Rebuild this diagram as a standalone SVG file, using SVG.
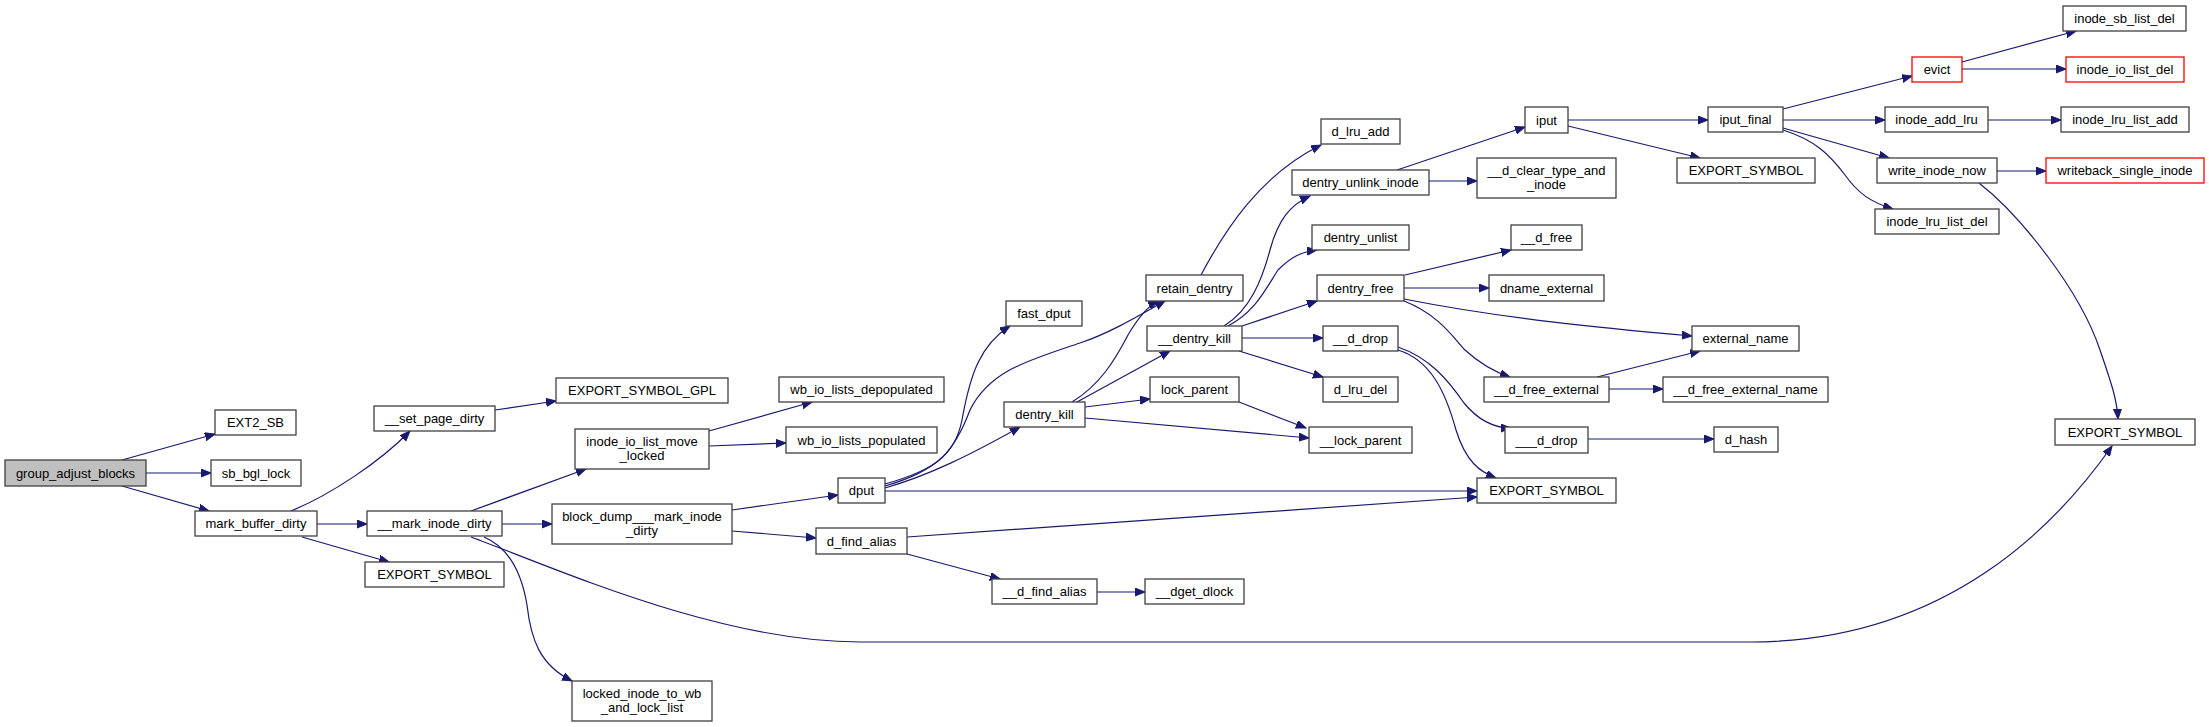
<svg xmlns="http://www.w3.org/2000/svg" width="2209" height="727" viewBox="0 0 2209 727">
<style>
.n rect{fill:#fff;stroke:#404040;stroke-width:1.3}
.n.root rect{fill:#bfbfbf}
.n.red rect{stroke:#ff0000}
.n text{font-family:"Liberation Sans",Arial,sans-serif;font-size:13px;fill:#000;text-anchor:middle}
.e path{fill:none;stroke:#191970;stroke-width:1.2;marker-end:url(#ah)}
</style>
<defs>
<marker id="ah" markerUnits="userSpaceOnUse" markerWidth="11" markerHeight="9" refX="10" refY="4" orient="auto">
<path d="M0,0 L10,4 L0,8 z" fill="#191970" stroke="#191970" stroke-width="1"/>
</marker>
</defs>
<rect width="2209" height="727" fill="#fff"/>
<g id="connectors" class="e">
<path d="M122,460 L215,434"/>
<path d="M146,473 L211,473"/>
<path d="M122,486 L209,511"/>
<path d="M291,511 C330,495 380,462 410,431"/>
<path d="M317,524 L367,524"/>
<path d="M302,537 L389,562"/>
<path d="M495,410 L556,401"/>
<path d="M471,511 L586,469"/>
<path d="M502,524 L552,524"/>
<path d="M484,537 C510,548 522,575 527,605 C531,640 540,665 572,681"/>
<path d="M471,537 C560,570 720,642 860,642 L1750,642 C1950,642 2060,520 2112,446"/>
<path d="M709,431 L812,402"/>
<path d="M709,446 L786,443"/>
<path d="M732,510 L838,495"/>
<path d="M732,531 L816,538"/>
<path d="M885,484 C935,470 955,455 962,420 C970,375 980,345 1010,326"/>
<path d="M885,486 C940,470 955,450 970,410 C990,370 1030,360 1080,343 C1110,333 1140,315 1165,301"/>
<path d="M885,488 C930,475 970,455 1020,427"/>
<path d="M885,491 L1477,491"/>
<path d="M907,537 L1477,497"/>
<path d="M907,554 L1000,579"/>
<path d="M1097,592 L1145,592"/>
<path d="M1072,402 C1100,385 1115,360 1128,335 C1138,318 1148,306 1158,301"/>
<path d="M1077,402 L1170,351"/>
<path d="M1085,407 L1150,399"/>
<path d="M1085,418 L1309,438"/>
<path d="M1239,402 L1306,428"/>
<path d="M1224,326 C1250,310 1262,280 1270,250 C1278,220 1290,205 1310,196"/>
<path d="M1228,326 C1255,312 1265,290 1278,270 C1290,258 1300,252 1317,250"/>
<path d="M1242,326 L1317,301"/>
<path d="M1242,338 L1323,338"/>
<path d="M1239,351 L1323,377"/>
<path d="M1201,275 C1225,230 1260,175 1321,145"/>
<path d="M1397,170 L1525,127"/>
<path d="M1429,181 L1477,181"/>
<path d="M1405,275 L1511,250"/>
<path d="M1404,288 L1489,288"/>
<path d="M1404,299 C1500,318 1600,328 1692,336"/>
<path d="M1404,301 C1440,315 1455,340 1465,350 C1478,362 1495,372 1510,377"/>
<path d="M1398,347 C1430,358 1448,380 1464,403 C1478,420 1495,428 1511,428"/>
<path d="M1398,350 C1430,360 1445,390 1456,430 C1466,462 1480,472 1496,478"/>
<path d="M1588,439 L1714,439"/>
<path d="M1597,377 L1700,351"/>
<path d="M1609,389 L1663,389"/>
<path d="M1568,120 L1708,120"/>
<path d="M1568,126 L1700,158"/>
<path d="M1783,109 L1912,76"/>
<path d="M1783,120 L1885,120"/>
<path d="M1783,128 L1889,158"/>
<path d="M1783,130 C1815,140 1830,155 1845,175 C1858,193 1870,202 1893,209"/>
<path d="M1962,62 L2076,31"/>
<path d="M1962,69 L2066,69"/>
<path d="M1988,120 L2061,120"/>
<path d="M1997,171 L2046,171"/>
<path d="M1979,183 C2020,215 2080,290 2100,350 C2112,385 2117,400 2118,419"/>
</g>
<g id="group_adjust_blocks" class="n root"><rect x="5" y="460" width="141" height="26"/><text x="75.5" y="477.5">group_adjust_blocks</text></g>
<g id="EXT2_SB" class="n"><rect x="215" y="410" width="81" height="25"/><text x="255.5" y="427">EXT2_SB</text></g>
<g id="sb_bgl_lock" class="n"><rect x="211" y="460" width="90" height="26"/><text x="256" y="477.5">sb_bgl_lock</text></g>
<g id="mark_buffer_dirty" class="n"><rect x="195" y="511" width="122" height="25"/><text x="256" y="528">mark_buffer_dirty</text></g>
<g id="set_page_dirty" class="n"><rect x="374" y="406" width="121" height="25"/><text x="434.5" y="423">__set_page_dirty</text></g>
<g id="mark_inode_dirty" class="n"><rect x="367" y="511" width="135" height="25"/><text x="434.5" y="528">__mark_inode_dirty</text></g>
<g id="EXPORT_SYMBOL_a" class="n"><rect x="365" y="562" width="139" height="25"/><text x="434.5" y="579">EXPORT_SYMBOL</text></g>
<g id="EXPORT_SYMBOL_GPL" class="n"><rect x="556" y="378" width="172" height="25"/><text x="642" y="395">EXPORT_SYMBOL_GPL</text></g>
<g id="inode_io_list_move_locked" class="n"><rect x="575" y="429" width="134" height="40"/><text x="642" y="445.5">inode_io_list_move</text><text x="642" y="459.5">_locked</text></g>
<g id="block_dump_mark_inode_dirty" class="n"><rect x="552" y="504" width="180" height="40"/><text x="642" y="520.5">block_dump___mark_inode</text><text x="642" y="534.5">_dirty</text></g>
<g id="locked_inode_to_wb_and_lock_list" class="n"><rect x="572" y="681" width="140" height="40"/><text x="642" y="697.5">locked_inode_to_wb</text><text x="642" y="711.5">_and_lock_list</text></g>
<g id="wb_io_lists_depopulated" class="n"><rect x="779" y="377" width="165" height="25"/><text x="861.5" y="394">wb_io_lists_depopulated</text></g>
<g id="wb_io_lists_populated" class="n"><rect x="786" y="427" width="151" height="26"/><text x="861.5" y="444.5">wb_io_lists_populated</text></g>
<g id="dput" class="n"><rect x="838" y="478" width="47" height="25"/><text x="861.5" y="495">dput</text></g>
<g id="d_find_alias" class="n"><rect x="816" y="528" width="91" height="26"/><text x="861.5" y="545.5">d_find_alias</text></g>
<g id="__d_find_alias" class="n"><rect x="992" y="579" width="105" height="25"/><text x="1044.5" y="596">__d_find_alias</text></g>
<g id="__dget_dlock" class="n"><rect x="1145" y="579" width="99" height="25"/><text x="1194.5" y="596">__dget_dlock</text></g>
<g id="fast_dput" class="n"><rect x="1006" y="301" width="76" height="25"/><text x="1044" y="318">fast_dput</text></g>
<g id="dentry_kill" class="n"><rect x="1004" y="402" width="81" height="25"/><text x="1044.5" y="419">dentry_kill</text></g>
<g id="retain_dentry" class="n"><rect x="1146" y="275" width="97" height="26"/><text x="1194.5" y="292.5">retain_dentry</text></g>
<g id="__dentry_kill" class="n"><rect x="1147" y="326" width="95" height="25"/><text x="1194.5" y="343">__dentry_kill</text></g>
<g id="lock_parent" class="n"><rect x="1150" y="377" width="89" height="25"/><text x="1194.5" y="394">lock_parent</text></g>
<g id="__lock_parent" class="n"><rect x="1309" y="427" width="103" height="26"/><text x="1360.5" y="444.5">__lock_parent</text></g>
<g id="d_lru_add" class="n"><rect x="1321" y="119" width="79" height="25"/><text x="1360.5" y="136">d_lru_add</text></g>
<g id="dentry_unlink_inode" class="n"><rect x="1292" y="170" width="137" height="25"/><text x="1360.5" y="187">dentry_unlink_inode</text></g>
<g id="dentry_unlist" class="n"><rect x="1312" y="225" width="97" height="25"/><text x="1360.5" y="242">dentry_unlist</text></g>
<g id="dentry_free" class="n"><rect x="1317" y="275" width="87" height="26"/><text x="1360.5" y="292.5">dentry_free</text></g>
<g id="__d_drop" class="n"><rect x="1323" y="326" width="75" height="25"/><text x="1360.5" y="343">__d_drop</text></g>
<g id="d_lru_del" class="n"><rect x="1323" y="377" width="75" height="25"/><text x="1360.5" y="394">d_lru_del</text></g>
<g id="EXPORT_SYMBOL_b" class="n"><rect x="1477" y="478" width="139" height="25"/><text x="1546.5" y="495">EXPORT_SYMBOL</text></g>
<g id="iput" class="n"><rect x="1525" y="107" width="43" height="26"/><text x="1546.5" y="124.5">iput</text></g>
<g id="__d_clear_type_and_inode" class="n"><rect x="1477" y="158" width="139" height="40"/><text x="1546.5" y="174.5">__d_clear_type_and</text><text x="1546.5" y="188.5">_inode</text></g>
<g id="__d_free" class="n"><rect x="1511" y="225" width="71" height="25"/><text x="1546.5" y="242">__d_free</text></g>
<g id="dname_external" class="n"><rect x="1489" y="275" width="115" height="26"/><text x="1546.5" y="292.5">dname_external</text></g>
<g id="__d_free_external" class="n"><rect x="1484" y="377" width="125" height="25"/><text x="1546.5" y="394">__d_free_external</text></g>
<g id="___d_drop" class="n"><rect x="1505" y="427" width="83" height="26"/><text x="1546.5" y="444.5">___d_drop</text></g>
<g id="external_name" class="n"><rect x="1692" y="326" width="107" height="25"/><text x="1745.5" y="343">external_name</text></g>
<g id="__d_free_external_name" class="n"><rect x="1663" y="377" width="165" height="25"/><text x="1745.5" y="394">__d_free_external_name</text></g>
<g id="d_hash" class="n"><rect x="1714" y="427" width="64" height="25"/><text x="1746" y="444">d_hash</text></g>
<g id="iput_final" class="n"><rect x="1708" y="107" width="75" height="25"/><text x="1745.5" y="124">iput_final</text></g>
<g id="EXPORT_SYMBOL_c" class="n"><rect x="1677" y="158" width="138" height="25"/><text x="1746" y="175">EXPORT_SYMBOL</text></g>
<g id="evict" class="n red"><rect x="1912" y="57" width="50" height="25"/><text x="1937" y="74">evict</text></g>
<g id="inode_add_lru" class="n"><rect x="1885" y="107" width="103" height="25"/><text x="1936.5" y="124">inode_add_lru</text></g>
<g id="write_inode_now" class="n"><rect x="1877" y="158" width="120" height="25"/><text x="1937" y="175">write_inode_now</text></g>
<g id="inode_lru_list_del" class="n"><rect x="1875" y="209" width="124" height="25"/><text x="1937" y="226">inode_lru_list_del</text></g>
<g id="inode_sb_list_del" class="n"><rect x="2063" y="6" width="123" height="25"/><text x="2124.5" y="23">inode_sb_list_del</text></g>
<g id="inode_io_list_del" class="n red"><rect x="2066" y="57" width="118" height="25"/><text x="2125" y="74">inode_io_list_del</text></g>
<g id="inode_lru_list_add" class="n"><rect x="2061" y="107" width="128" height="25"/><text x="2125" y="124">inode_lru_list_add</text></g>
<g id="writeback_single_inode" class="n red"><rect x="2046" y="158" width="158" height="25"/><text x="2125" y="175">writeback_single_inode</text></g>
<g id="EXPORT_SYMBOL_d" class="n"><rect x="2055" y="419" width="140" height="26"/><text x="2125" y="436.5">EXPORT_SYMBOL</text></g>
</svg>
